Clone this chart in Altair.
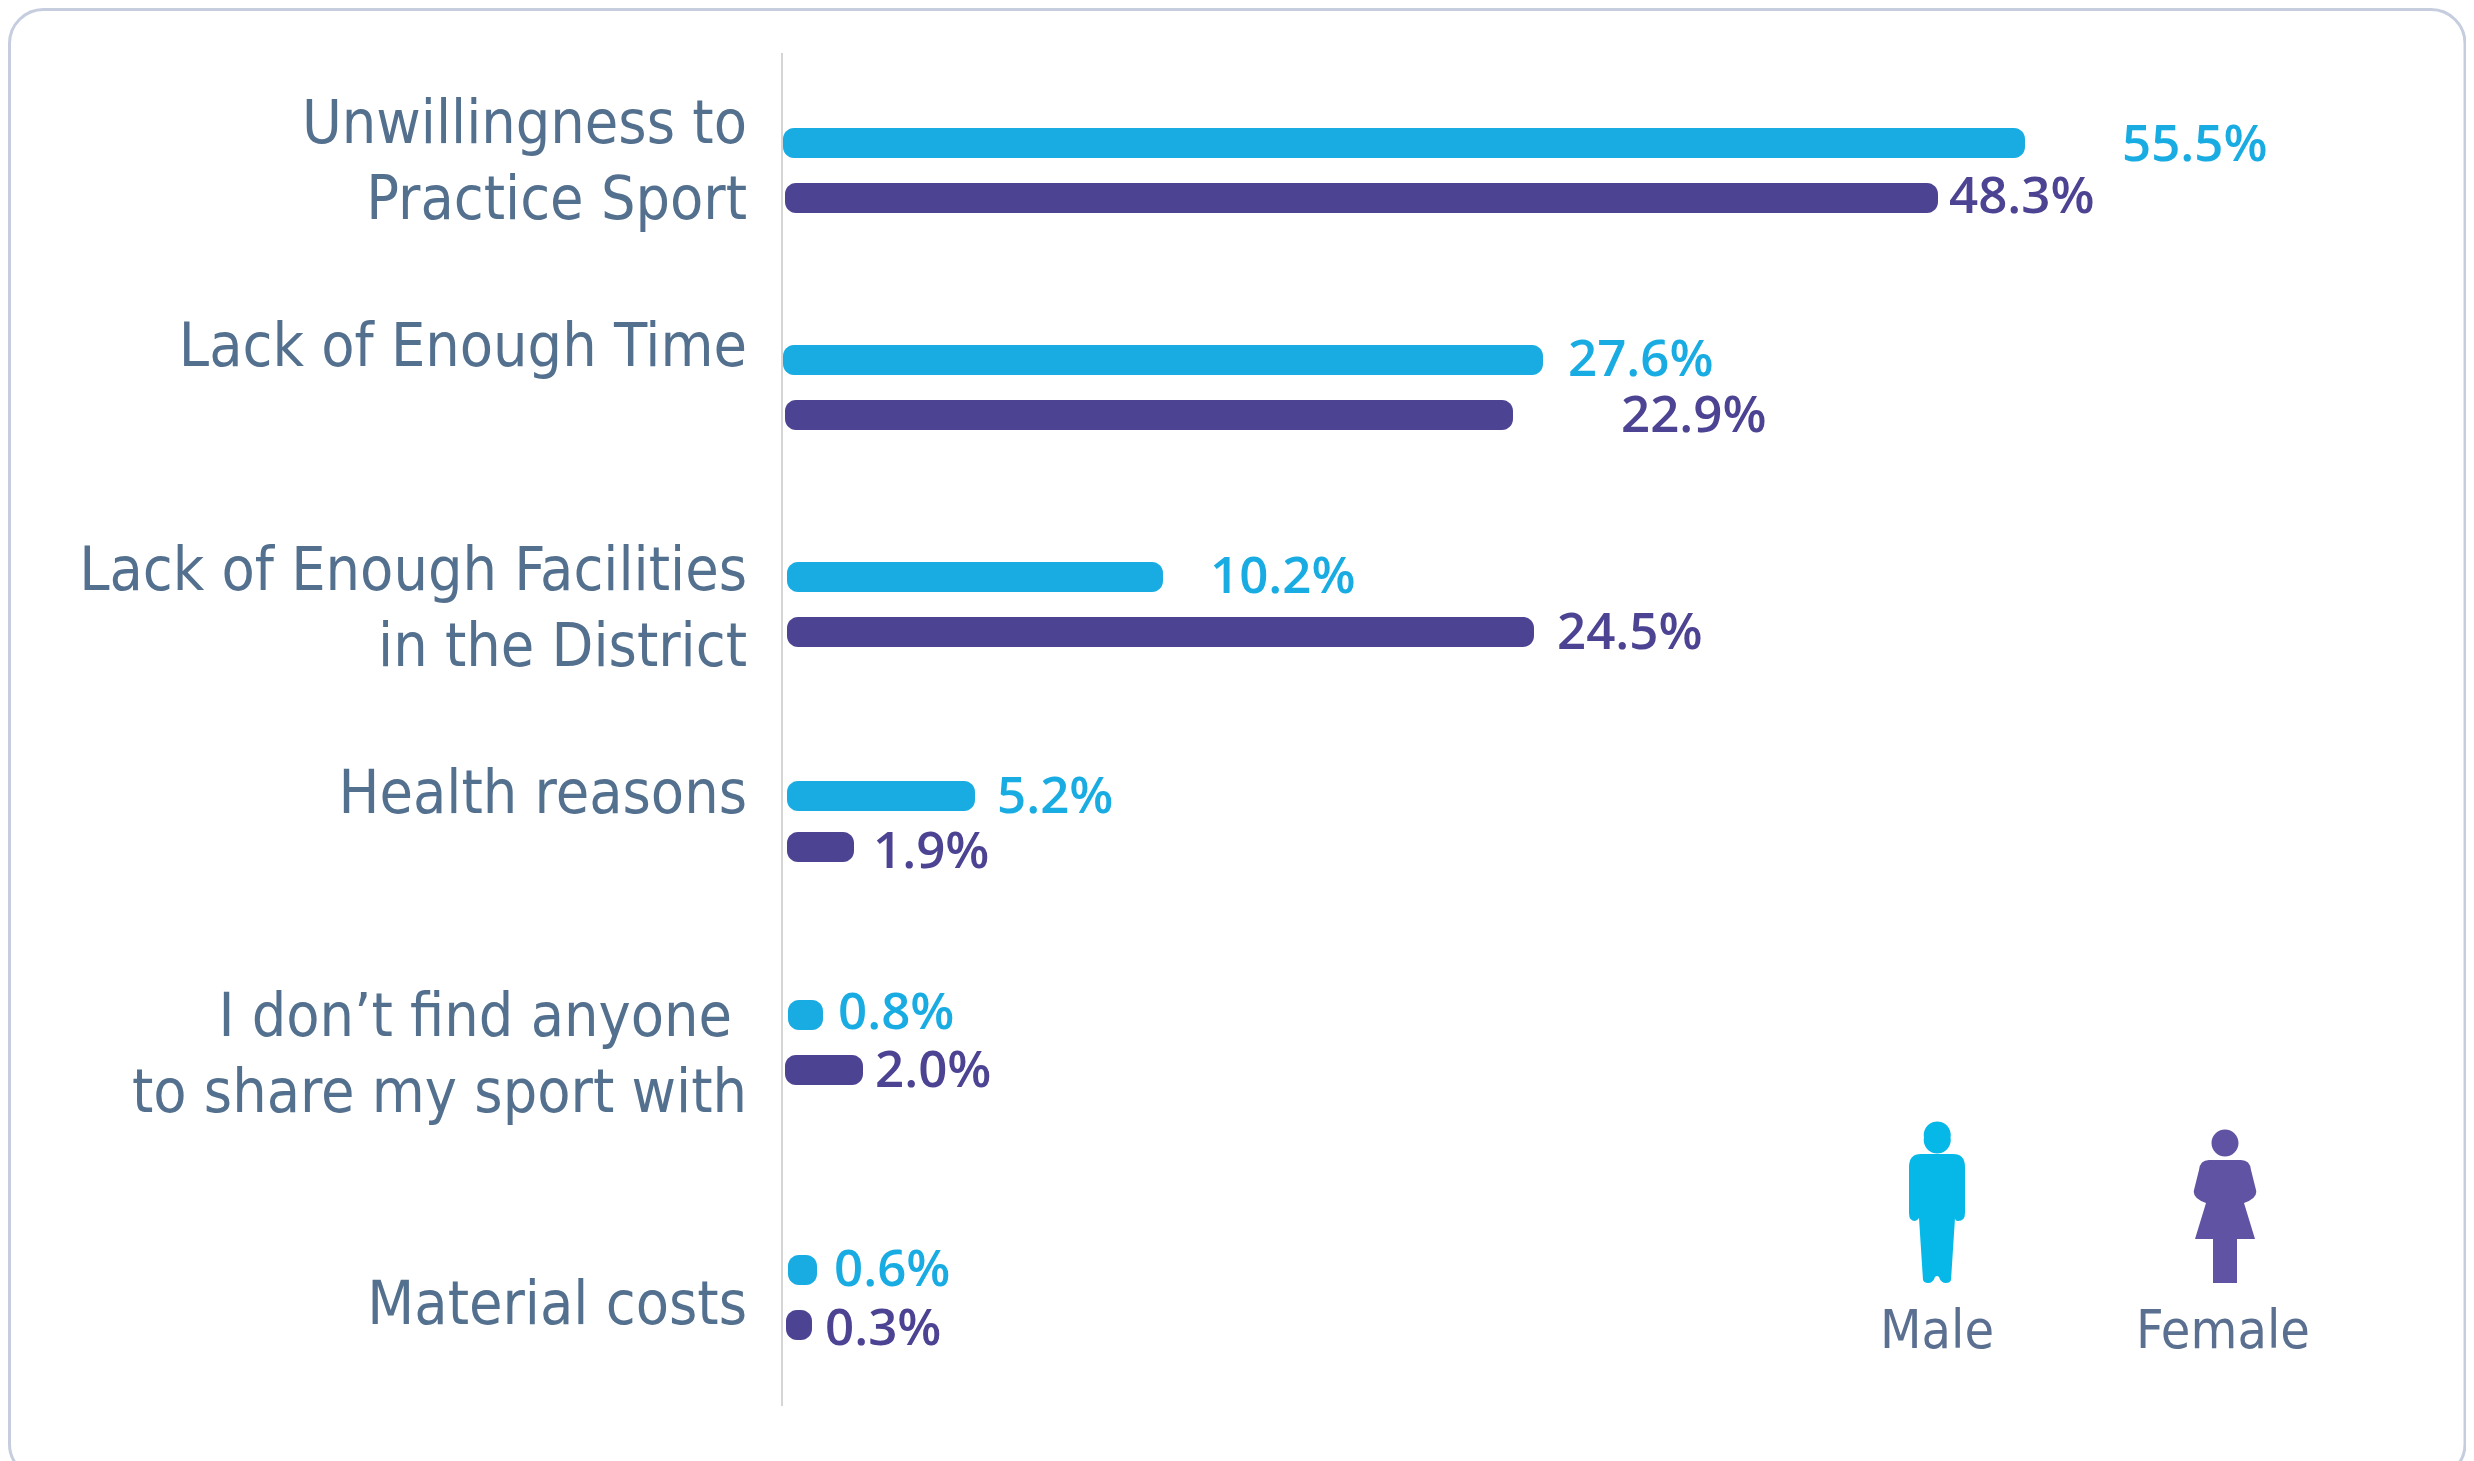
import altair as alt
import pandas as pd

category_lines = ["Unwillingness to", "Practice Sport", "Lack of Enough Time",
                  "Lack of Enough Facilities", "in the District", "Health reasons",
                  "I don\u2019t find anyone", "to share my sport with", "Material costs"]
category_y = [143, 219, 366, 590, 666, 813, 1036, 1112, 1324]
category_right = [747, 747, 747, 747, 747, 747, 732, 747, 747]

male_labels = ["55.5%", "27.6%", "10.2%", "5.2%", "0.8%", "0.6%"]
female_labels = ["48.3%", "22.9%", "24.5%", "1.9%", "2.0%", "0.3%"]
male_start = [783, 783, 787, 787, 788, 788]
male_end = [2025, 1543, 1163, 975, 823, 817]
male_y = [143, 360, 577, 796, 1015, 1270]
male_label_x = [2122, 1568, 1210, 997, 838, 834]
male_label_y = [146, 361, 578, 798, 1014, 1271]
female_start = [785, 785, 787, 787, 785, 786]
female_end = [1938, 1513, 1534, 854, 863, 812]
female_y = [198, 415, 632, 847, 1070, 1325]
female_label_x = [1949, 1621, 1557, 873, 875, 825]
female_label_y = [198, 417, 634, 853, 1072, 1330]

MALE, FEMALE = "#19ACE3", "#4C4393"
TEXT = "#54708F"
NARROW = "DejaVu Sans Condensed"

x_scale = alt.Scale(domain=[8, 2466], range=[0, 2458], nice=False, zero=False, padding=0)
y_scale = alt.Scale(domain=[8, 1461], range=[0, 1453], nice=False, zero=False, padding=0)
X = lambda f: alt.X(f, type="quantitative", scale=x_scale, axis=None)
Y = lambda f: alt.Y(f, type="quantitative", scale=y_scale, axis=None)

male = pd.DataFrame(dict(start=male_start, end=male_end, y=male_y, lx=male_label_x, ly=male_label_y, label=male_labels))
female = pd.DataFrame(dict(start=female_start, end=female_end, y=female_y, lx=female_label_x, ly=female_label_y, label=female_labels))
cats = pd.DataFrame(dict(cat=category_lines, y=category_y, x=category_right))

card = alt.Chart(pd.DataFrame(dict(x=[9.5], x2=[2465], y=[9.5], y2=[1478]))).mark_rect(
    fill="white", stroke="#C5CDDE", strokeWidth=3, cornerRadius=34
).encode(x=X("x"), x2="x2", y=Y("y"), y2="y2")

axis_line = alt.Chart(pd.DataFrame(dict(x=[782], y=[53], y2=[1406]))).mark_rule(
    color="#D5D5D5", strokeWidth=2
).encode(x=X("x"), y=Y("y"), y2="y2")

def bars(df, color):
    b = alt.Chart(df).mark_bar(size=30, cornerRadius=11, color=color, orient="horizontal").encode(
        x=X("start"), x2="end", y=Y("y"))
    t = alt.Chart(df).mark_text(align="left", baseline="middle", font="Open Sans", fontWeight=600,
                                fontSize=51, color=color).encode(x=X("lx"), y=Y("ly"), text="label")
    return b + t

cat_text = alt.Chart(cats).mark_text(
    align="right", baseline="alphabetic", font=NARROW, fontSize=60.5, color=TEXT
).encode(x=X("x"), y=Y("y"), text="cat")

legend = pd.DataFrame(dict(name=["Male", "Female"], x=[1937, 2223], y=[1348, 1348]))
legend_text = alt.Chart(legend).mark_text(
    align="center", baseline="alphabetic", font=NARROW, fontSize=53.5, color="#5B7090"
).encode(x=X("x"), y=Y("y"), text="name")

MALE_ICON = ("M-13,-84.5 A13.5,13.5 0 1,1 13.5,-84.5 A13.5,13.5 0 1,1 -13,-84.5 Z "
             "M-16,-68 L16,-68 Q28,-68 28,-55 L28,-9 Q28,-1 21,-1 Q18,-1 18,-4 "
             "L14,58 Q13,61 9,61 Q4,61 2,55 Q0,53 -2,55 Q-4,61 -9,61 Q-13,61 -14,58 "
             "L-18,-4 Q-20,-1 -22,-1 Q-28,-1 -28,-9 L-28,-55 Q-28,-68 -16,-68 Z")
FEMALE_ICON = ("M-13.5,-79 A13.5,13.5 0 1,1 13.5,-79 A13.5,13.5 0 1,1 -13.5,-79 Z "
               "M-16,-62 L16,-62 Q25,-62 26,-52 L31,-32 Q33,-24 19,-19 "
               "L30,17 L12,17 L12,61 L-12,61 L-12,17 L-30,17 L-19,-19 "
               "Q-33,-24 -31,-32 L-26,-52 Q-25,-62 -16,-62 Z")

icons = alt.layer(
    alt.Chart(pd.DataFrame(dict(x=[1937], y=[1222]))).mark_point(
        shape=MALE_ICON, size=4, filled=True, opacity=1, color="#05B8E8", strokeWidth=0
    ).encode(x=X("x"), y=Y("y")),
    alt.Chart(pd.DataFrame(dict(x=[2225], y=[1222]))).mark_point(
        shape=FEMALE_ICON, size=4, filled=True, opacity=1, color="#6053A3", strokeWidth=0
    ).encode(x=X("x"), y=Y("y")),
)

chart = alt.layer(card, axis_line, bars(male, MALE), bars(female, FEMALE), cat_text, legend_text, icons).properties(
    width=2458, height=1453, padding=0, autosize=alt.AutoSizeParams(type="none"), background="white"
).configure_view(stroke=None)

chart.save("out.html", embed_options={"renderer": "svg", "actions": False})
